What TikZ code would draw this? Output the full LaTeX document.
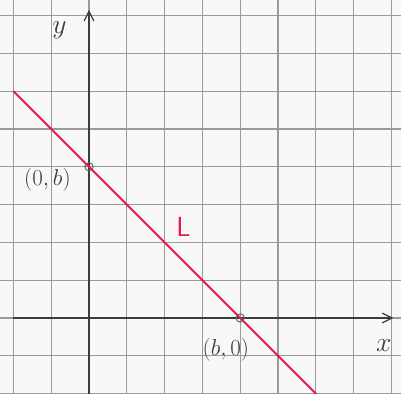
\documentclass[tikz,border=0pt]{standalone}
\usepackage{tikz}
\usetikzlibrary{arrows.meta,positioning}
\definecolor{PaperWhite}{HTML}{F9F8F8}
\definecolor{GridGray}{HTML}{9A9A9A}
\definecolor{AxisInk}{HTML}{3C3C3C}
\definecolor{LineRed}{HTML}{E5194A}

\begin{document}
\begin{tikzpicture}[
  x=1cm,y=1cm,
  >={Straight Barb[length=2.6mm,width=2.6mm]},
  grid/.style={draw=GridGray, line width=0.9pt},
  axis/.style={->, draw=AxisInk, line width=0.9pt},
  lline/.style={draw=LineRed, line width=1.5pt},
  dot/.style={circle, draw=AxisInk!80, line width=0.7pt, inner sep=0pt, minimum size=2.2mm},
  lbl/.style={font=\LARGE, text=AxisInk, inner sep=1pt},
  axlbl/.style={font=\huge, text=AxisInk, inner sep=1pt},
  redlbl/.style={font=\huge\sffamily, text=LineRed, inner sep=1pt}
]
% paper and frame
\fill[PaperWhite] (-2.355,-2.011) rectangle (8.254,8.413);
\useasboundingbox (-2.355,-2.011) rectangle (8.254,8.413);

% squared paper
\foreach \i in {-2,...,8} {
  \draw[grid] (\i,-2.011) -- (\i,8.413);
  \draw[grid] (-2.355,\i) -- (8.254,\i);
}

% axes
\coordinate (xs) at (-2,0);
\coordinate (xe) at (8.05,0);
\coordinate (ys) at (0,-2.011);
\coordinate (ye) at (0,8.15);
\draw[axis] (xs) -- (xe);
\draw[axis] (ys) -- (ye);

\node[axlbl] (ylab) at (-0.78,7.6) {$y$};
\node[axlbl] (xlab) at (7.8,-0.72) {$x$};

% the line L
\coordinate (Ls) at (-2,6);
\coordinate (Le) at (6.05,-2.05);
\draw[lline] (Ls) -- (Le);

\node[dot] (yb) at (0,4) {};
\node[dot] (xb) at (4,0) {};
\node[lbl] (yblab) at (-1.1,3.66) {$(0,b)$};
\node[lbl] (xblab) at (3.62,-0.85) {$(b,0)$};
\node[redlbl] (Llab) at (2.5,2.4) {L};

\end{tikzpicture}
\end{document}
